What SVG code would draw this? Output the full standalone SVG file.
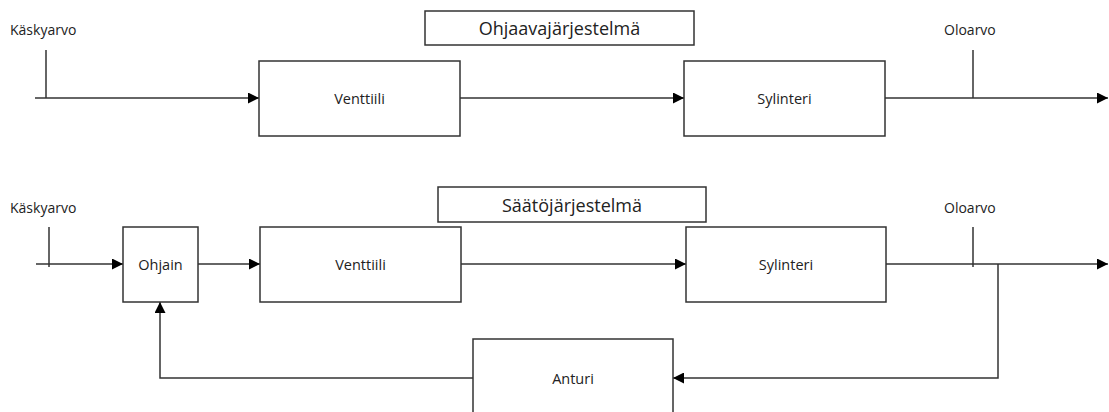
<svg xmlns="http://www.w3.org/2000/svg" width="1109" height="412" viewBox="0 0 1109 412">
<defs>
<marker id="arr" viewBox="0 0 10 10" refX="10" refY="5" markerWidth="11" markerHeight="11" markerUnits="userSpaceOnUse" orient="auto">
<path d="M0,0 L10,5 L0,10 Z" fill="#000"/>
</marker>
</defs>
<style>
.box{fill:#fff;stroke:#333;stroke-width:1.5}
.ln{fill:none;stroke:#333;stroke-width:1.5}
.ar{fill:none;stroke:#333;stroke-width:1.5;marker-end:url(#arr)}
.t{font-family:"Open Sans","Noto Sans",sans-serif;font-size:14.5px;fill:#222;text-anchor:middle;dominant-baseline:central}
.tl{font-family:"Open Sans","Noto Sans",sans-serif;font-size:14px;fill:#222}
.tt{font-family:"Open Sans","Noto Sans",sans-serif;font-size:18px;fill:#222;text-anchor:middle;dominant-baseline:central}
</style>
<g id="connectors">
<line class="ar" x1="35" y1="98" x2="259" y2="98"/>
<line class="ln" x1="46" y1="50" x2="46" y2="98"/>
<line class="ar" x1="460" y1="98" x2="684" y2="98"/>
<line class="ar" x1="885" y1="98" x2="1108" y2="98"/>
<line class="ln" x1="973" y1="50" x2="973" y2="98"/>
<line class="ar" x1="36" y1="264" x2="123" y2="264"/>
<line class="ln" x1="49" y1="227" x2="49" y2="267"/>
<line class="ar" x1="198" y1="264" x2="260" y2="264"/>
<line class="ar" x1="461" y1="264" x2="686" y2="264"/>
<line class="ar" x1="886" y1="264" x2="1108" y2="264"/>
<line class="ln" x1="973" y1="227" x2="973" y2="267"/>
<polyline class="ar" points="998,264 998,378 673,378"/>
<polyline class="ar" points="473,378 160,378 160,302"/>
</g>
<g id="label-kaskyarvo1"><text class="tl" x="10" y="35">Käskyarvo</text></g>
<g id="label-oloarvo1"><text class="tl" x="944" y="35">Oloarvo</text></g>
<g id="title1"><rect class="box" x="425" y="11" width="269" height="34"/><text class="tt" x="559.5" y="28">Ohjaavajärjestelmä</text></g>
<g id="venttiili1"><rect class="box" x="259" y="61" width="201" height="75"/><text class="t" x="359.5" y="98">Venttiili</text></g>
<g id="sylinteri1"><rect class="box" x="684" y="61" width="201" height="75"/><text class="t" x="784.5" y="98">Sylinteri</text></g>
<g id="label-kaskyarvo2"><text class="tl" x="10" y="213">Käskyarvo</text></g>
<g id="label-oloarvo2"><text class="tl" x="944" y="213">Oloarvo</text></g>
<g id="title2"><rect class="box" x="438" y="187" width="268" height="35"/><text class="tt" x="572" y="204.5">Säätöjärjestelmä</text></g>
<g id="ohjain"><rect class="box" x="123" y="227" width="75" height="75"/><text class="t" x="160.5" y="264">Ohjain</text></g>
<g id="venttiili2"><rect class="box" x="260" y="227" width="201" height="75"/><text class="t" x="360.5" y="264">Venttiili</text></g>
<g id="sylinteri2"><rect class="box" x="686" y="227" width="200" height="75"/><text class="t" x="786" y="264">Sylinteri</text></g>
<g id="anturi"><rect class="box" x="473" y="339" width="200" height="80"/><text class="t" x="573" y="378">Anturi</text></g>
</svg>
